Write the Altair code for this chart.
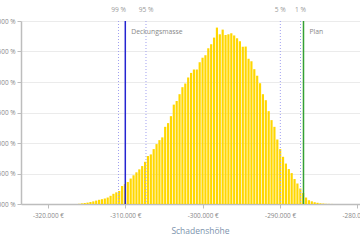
import altair as alt
import pandas as pd

# Histogram bins (equal width) and bar heights in percent
BIN_START = -316239
BIN_WIDTH = 371.4
PCT = [0.003, 0.010, 0.016, 0.023, 0.033, 0.043, 0.056, 0.069, 0.079, 0.090, 0.106, 0.134, 0.167, 0.191,
       0.213, 0.295, 0.327, 0.360, 0.417, 0.471, 0.519, 0.568, 0.622, 0.692, 0.786, 0.813, 0.900, 0.982, 1.047, 1.092,
       1.265, 1.326, 1.440, 1.629, 1.689, 1.800, 1.915, 1.975, 2.074, 2.149, 2.205, 2.205, 2.324, 2.398, 2.439,
       2.553, 2.619, 2.728, 2.892,
       2.782, 2.859, 2.771, 2.782, 2.799, 2.763, 2.717, 2.668, 2.578, 2.581, 2.381, 2.340, 2.210, 2.103, 1.980,
       1.800, 1.702, 1.522, 1.375, 1.265, 1.059,
       0.900, 0.774, 0.663, 0.573, 0.507, 0.409, 0.336, 0.254, 0.180, 0.106, 0.062, 0.044, 0.029, 0.020, 0.011,
       0.007, 0.003, 0.002, 0.001]

QUANT_LABELS = ["99 %", "95 %", "5 %", "1 %"]
QUANT_VALUES = [-310879, -307326, -289970, -287364]
MARK_LABELS = ["Deckungsmasse", "Plan"]
MARK_VALUES = [-310000, -286977]
MARK_COLORS = ["#2424d0", "#34a034"]
X_TICKS = [-320000, -310000, -300000, -290000, -280000]
Y_TICKS = [0, 0.5, 1.0, 1.5, 2.0, 2.5, 3.0]
X_DOMAIN = [-323475, -279677]

starts = [BIN_START + i * BIN_WIDTH for i in range(len(PCT))]
df = pd.DataFrame({"start": starts, "end": [s + BIN_WIDTH for s in starts], "pct": PCT})
qdf = pd.DataFrame({"label": QUANT_LABELS, "value": QUANT_VALUES})
mdf = pd.DataFrame({"label": MARK_LABELS, "value": MARK_VALUES, "color": MARK_COLORS})

xscale = alt.Scale(domain=X_DOMAIN, nice=False, zero=False)

bars = alt.Chart(df).mark_bar(color="#FFD700").encode(
    x=alt.X("start:Q", bin="binned", scale=xscale,
            axis=alt.Axis(values=X_TICKS, grid=False, labelFlush=False,
                          labelExpr="(datum.value < 0 ? '-' : '') + replace(format(abs(datum.value), ',.0f'), ',', '.') + ' €'",
                          tickSize=4, labelPadding=4,
                          title="Schadenshöhe", titleX=179, titleY=29, titleBaseline="alphabetic",
                          titleColor="#7d93ad", titleFontSize=8.5, titleFontWeight="normal",
                          titleFont="Open Sans")),
    x2="end:Q",
    y=alt.Y("pct:Q", scale=alt.Scale(domain=[0, 3], nice=False),
            axis=alt.Axis(values=Y_TICKS, grid=True, title=None, tickSize=4, labelPadding=2,
                          labelExpr="replace(format(datum.value, '.3f'), '.', ',') + ' %'")),
)

qrules = alt.Chart(qdf).mark_rule(color="#a0a0f0", strokeDash=[1, 2], strokeWidth=1).encode(
    x=alt.X("value:Q", scale=xscale)
)
qtext = alt.Chart(qdf).mark_text(color="#999999", fontSize=6.6, font="Open Sans", baseline="middle").encode(
    x=alt.X("value:Q", scale=xscale), y=alt.value(-11), text="label:N"
)
mrules = alt.Chart(mdf).mark_rule(strokeWidth=1.5).encode(
    x=alt.X("value:Q", scale=xscale), color=alt.Color("color:N", scale=None)
)
mtext = alt.Chart(mdf).mark_text(color="#888888", fontSize=6.8, font="Open Sans", align="left",
                                 baseline="middle", dx=6).encode(
    x=alt.X("value:Q", scale=xscale), y=alt.value(11), text="label:N"
)

chart = alt.layer(bars, qrules, mrules, qtext, mtext).properties(
    width=339, height=183,
    autosize=alt.AutoSizeParams(type="none"),
    padding={"left": 21, "top": 21, "right": 0, "bottom": 36},
).configure_view(strokeWidth=0).configure_axis(
    domainColor="#bdbdbd", tickColor="#bdbdbd", gridColor="#ebebeb", labelColor="#888888",
    labelFont="Open Sans", labelFontSize=6.4, domainWidth=1.5,
).configure_bar(binSpacing=0.7)

chart.save("out.html", embed_options={"renderer": "svg", "actions": False})
